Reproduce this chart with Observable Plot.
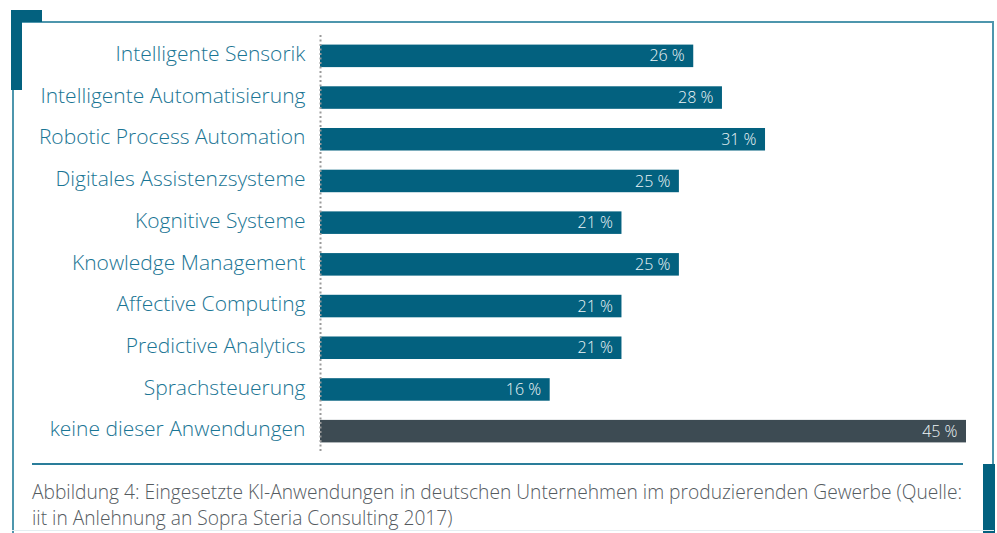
<!DOCTYPE html>
<html>
<head>
<meta charset="utf-8">
<script src="https://cdn.jsdelivr.net/npm/d3@7"></script>
<script src="https://cdn.jsdelivr.net/npm/@observablehq/plot@0.6"></script>
<style>
  html, body { margin: 0; padding: 0; background: #fff; }
  body { width: 997px; height: 533px; position: relative; overflow: hidden; font-family: "Open Sans", Roboto, sans-serif; }
  .abs { position: absolute; }
  #chart { position: absolute; left: 0; top: 0; }
  #caption { position: absolute; left: 32px; top: 479px; font-size: 19.2px; line-height: 26px; color: #555b5f; font-weight: 300; white-space: nowrap; }
</style>
</head>
<body>
<div class="abs" style="left:12px;top:21px;width:982px;height:2px;background:#4e96ad"></div>
<div class="abs" style="left:12px;top:21px;width:2px;height:512px;background:#4e96ad"></div>
<div class="abs" style="left:992px;top:21px;width:2px;height:443px;background:#4e96ad"></div>
<div class="abs" style="left:11px;top:10px;width:31px;height:12px;background:#03617f"></div>
<div class="abs" style="left:11px;top:10px;width:11px;height:80px;background:#03617f"></div>
<div class="abs" style="left:983px;top:464px;width:12px;height:69px;background:#03617f"></div>
<div class="abs" style="left:12px;top:530px;width:982px;height:1px;background:#e3eef1"></div>
<div class="abs" style="left:32px;top:463px;width:931px;height:2px;background:#2a7d9a"></div>
<div id="chart"></div>
<div id="caption">Abbildung 4: Eingesetzte KI-Anwendungen in deutschen Unternehmen im produzierenden Gewerbe (Quelle:<br>iit in Anlehnung an Sopra Steria Consulting 2017)</div>
<script>
const categories = [
  "Intelligente Sensorik",
  "Intelligente Automatisierung",
  "Robotic Process Automation",
  "Digitales Assistenzsysteme",
  "Kognitive Systeme",
  "Knowledge Management",
  "Affective Computing",
  "Predictive Analytics",
  "Sprachsteuerung",
  "keine dieser Anwendungen"
];
const values = [26, 28, 31, 25, 21, 25, 21, 21, 16, 45];
const groups = ["use","use","use","use","use","use","use","use","use","none"];

const data = categories.map((c, i) => ({category: c, value: values[i], group: groups[i]}));

const chart = Plot.plot({
  width: 997,
  height: 470,
  marginLeft: 320,
  marginRight: 31,
  marginTop: 35,
  marginBottom: 18,
  style: {fontFamily: "'Open Sans', Roboto, sans-serif", fontSize: "21px", background: "transparent"},
  x: {domain: [0, 45], axis: null},
  y: {domain: categories, paddingInner: 0.46, paddingOuter: 0.23, round: false, label: null},
  color: {domain: ["use", "none"], range: ["#03617f", "#3d4b53"]},
  marks: [
    Plot.barX(data, {y: "category", x: "value", fill: "group"}),
    Plot.text(data, {y: "category", x: "value", text: d => `${d.value} %`, textAnchor: "end", dx: -9, fill: "#eef5f7", fontSize: 16, fontWeight: 300}),
    Plot.ruleX([0], {stroke: "#9a9a9a", strokeWidth: 2, strokeDasharray: "2,2.5"}),
    Plot.axisY({tickSize: 0, tickPadding: 15, dy: -2, color: "#1a7594", fontSize: 21, fontWeight: 300, label: null})
  ]
});
document.getElementById("chart").appendChild(chart);
</script>
</body>
</html>
